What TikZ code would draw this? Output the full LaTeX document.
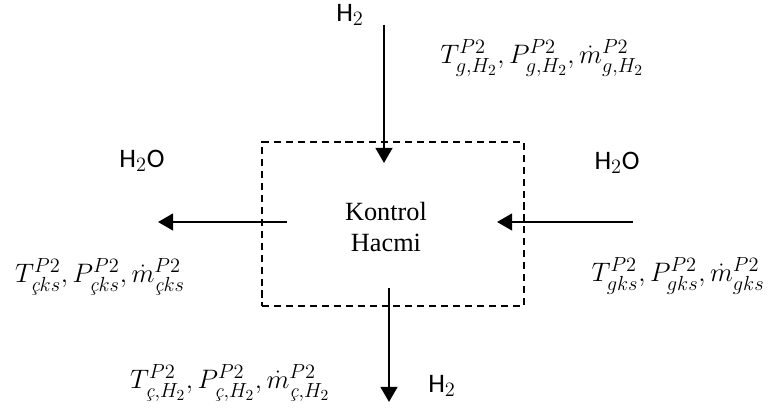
\RequirePackage{fix-cm}
\documentclass[tikz,border=0pt]{standalone}
\usepackage{amsmath,amssymb}
\usepackage{fontspec}
\usepackage{tikz}
\usetikzlibrary{arrows.meta, positioning}
\newfontfamily\calibrifont{Carlito}
\newfontfamily\timesfont{Liberation Serif}
\DeclareMathSizes{19}{19}{14.5}{11}
\newcommand{\cced}{\text{\itshape ç}}
\tikzset{
    % Node styles
    cvbox/.style={
        rectangle,
        draw=black,
        line width=1.1pt,
        dash pattern=on 5pt off 3.5pt,
        minimum width=6.55cm,
        minimum height=4.1cm
    },
    cvtext/.style={
        align=center,
        font=\timesfont\fontsize{18.7}{22.7}\selectfont
    },
    species/.style={
        font=\calibrifont\fontsize{19}{22}\selectfont
    },
    statelabel/.style={
        font=\fontsize{19}{23}\selectfont
    },
    % Arrow styles
    flowarrow/.style={
        -{Triangle[length=0.38cm,width=0.42cm]},
        line width=1.8pt,
        black
    }
}
\begin{document}
\begin{tikzpicture}
    \useasboundingbox (0,0) rectangle (19.35,-10.25);
    \node[cvbox] (cv) at (9.825,-5.6) {};
    \node[cvtext] (cvname) at (9.65,-5.675) {Kontrol\\Hacmi};

    % inlet H2 (top)
    \coordinate (h2in) at (9.6,-0.625);
    \coordinate (h2intip) at (9.6,-4.075);
    \node[species] (h2inname) at (8.75,-0.375) {H$_2$};
    \node[statelabel] (h2instate) at (13.55,-1.45) {$T^{P2}_{g,H_2}, P^{P2}_{g,H_2}, \dot{m}^{P2}_{g,H_2}$};

    % outlet H2O (left)
    \coordinate (wout) at (7.175,-5.55);
    \coordinate (wouttip) at (3.95,-5.55);
    \node[species] (woutname) at (3.55,-4.025) {H$_2$O};
    \node[statelabel] (woutstate) at (2.5,-6.925) {$T^{P2}_{\cced ks}, P^{P2}_{\cced ks}, \dot{m}^{P2}_{\cced ks}$};

    % inlet H2O (right)
    \coordinate (win) at (15.825,-5.55);
    \coordinate (wintip) at (12.425,-5.55);
    \node[species] (winname) at (15.425,-4.075) {H$_2$O};
    \node[statelabel] (winstate) at (16.95,-6.9) {$T^{P2}_{gks}, P^{P2}_{gks}, \dot{m}^{P2}_{gks}$};

    % outlet H2 (bottom)
    \coordinate (h2out) at (9.725,-7.2);
    \coordinate (h2outtip) at (9.725,-10.05);
    \node[species] (h2outname) at (11.05,-9.65) {H$_2$};
    \node[statelabel] (h2outstate) at (5.75,-9.575) {$T^{P2}_{\cced,H_2}, P^{P2}_{\cced,H_2}, \dot{m}^{P2}_{\cced,H_2}$};

    \draw[flowarrow] (h2in) -- (h2intip);
    \draw[flowarrow] (wout) -- (wouttip);
    \draw[flowarrow] (win) -- (wintip);
    \draw[flowarrow] (h2out) -- (h2outtip);
\end{tikzpicture}
\end{document}
